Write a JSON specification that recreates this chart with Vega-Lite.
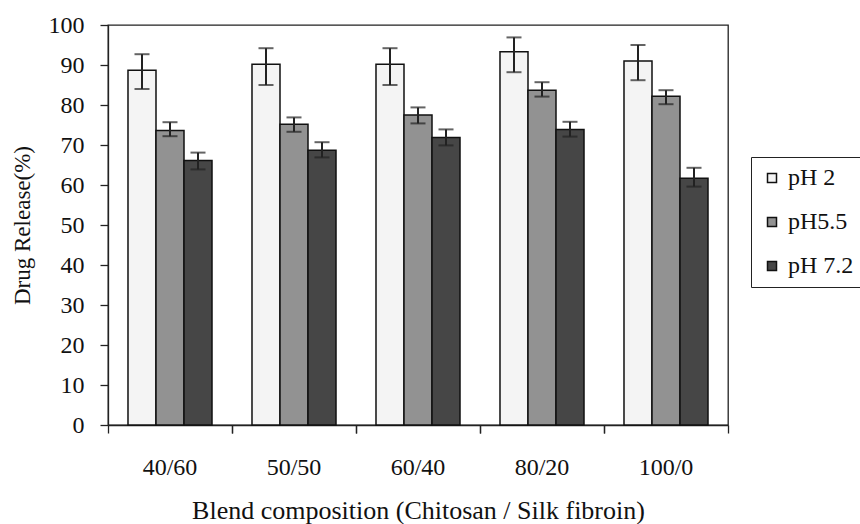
{
  "$schema": "https://vega.github.io/schema/vega-lite/v6.json",
  "width": 620,
  "height": 400,
  "padding": {"left": 11, "top": 13, "right": 2, "bottom": 2},
  "background": "white",
  "config": {
    "view": {"stroke": "#222", "strokeWidth": 1.3},
    "font": "Liberation Serif",
    "axis": {
      "labelFont": "Liberation Serif",
      "titleFont": "Liberation Serif",
      "titleFontWeight": "normal",
      "labelColor": "#111",
      "titleColor": "#111",
      "domainColor": "#222",
      "tickColor": "#222",
      "domainWidth": 1.3,
      "tickWidth": 1.3,
      "grid": false
    },
    "axisY": {
      "labelFont": "Liberation Serif",
      "titleFont": "Liberation Serif",
      "titleFontSize": 23,
      "titlePadding": 14,
      "labelFontSize": 24,
      "labelPadding": 16,
      "tickSize": 8
    },
    "axisX": {
      "labelFont": "Liberation Serif",
      "titleFont": "Liberation Serif"
    }
  },
  "data": {
    "values": [
      {"comp": "40/60", "ph": "pH 2", "value": 88.7, "lo": 84.0, "hi": 92.7},
      {"comp": "40/60", "ph": "pH5.5", "value": 73.6, "lo": 72.2, "hi": 75.7},
      {"comp": "40/60", "ph": "pH 7.2", "value": 66.1, "lo": 63.9, "hi": 68.1},
      {"comp": "50/50", "ph": "pH 2", "value": 90.2, "lo": 85.0, "hi": 94.2},
      {"comp": "50/50", "ph": "pH5.5", "value": 75.2, "lo": 73.3, "hi": 76.9},
      {"comp": "50/50", "ph": "pH 7.2", "value": 68.7, "lo": 66.9, "hi": 70.7},
      {"comp": "60/40", "ph": "pH 2", "value": 90.2, "lo": 85.0, "hi": 94.2},
      {"comp": "60/40", "ph": "pH5.5", "value": 77.5, "lo": 75.4, "hi": 79.4},
      {"comp": "60/40", "ph": "pH 7.2", "value": 71.9, "lo": 69.9, "hi": 73.9},
      {"comp": "80/20", "ph": "pH 2", "value": 93.3, "lo": 88.2, "hi": 96.9},
      {"comp": "80/20", "ph": "pH5.5", "value": 83.7, "lo": 82.1, "hi": 85.7},
      {"comp": "80/20", "ph": "pH 7.2", "value": 73.9, "lo": 72.1, "hi": 75.8},
      {"comp": "100/0", "ph": "pH 2", "value": 91.0, "lo": 86.2, "hi": 95.0},
      {"comp": "100/0", "ph": "pH5.5", "value": 82.2, "lo": 80.2, "hi": 83.7},
      {"comp": "100/0", "ph": "pH 7.2", "value": 61.7, "lo": 59.6, "hi": 64.3}
    ]
  },
  "encoding": {
    "xOffset": {
      "field": "ph",
      "type": "nominal",
      "sort": ["pH 2", "pH5.5", "pH 7.2"],
      "scale": {"paddingInner": 0, "paddingOuter": 0.714}
    }
  },
  "layer": [
    {
      "mark": {"type": "bar", "stroke": "#111", "strokeWidth": 1.5},
      "encoding": {
        "x": {
          "field": "comp",
          "type": "nominal",
          "sort": ["40/60", "50/50", "60/40", "80/20", "100/0"],
          "scale": {"paddingInner": 0, "paddingOuter": 0},
          "axis": {
            "orient": "bottom",
            "title": "Blend composition (Chitosan / Silk fibroin)",
            "titleFontSize": 26,
            "titlePadding": 18,
            "labelFontSize": 24,
            "labelAngle": 0,
            "labelPadding": 30,
            "ticks": false,
            "domain": true
          }
        },
        "y": {
          "field": "value",
          "type": "quantitative",
          "scale": {"domain": [0, 100], "nice": false},
          "axis": {
            "title": "Drug Release(%)",
            "values": [0, 10, 20, 30, 40, 50, 60, 70, 80, 90, 100]
          }
        },
        "fill": {
          "field": "ph",
          "type": "nominal",
          "scale": {
            "domain": ["pH 2", "pH5.5", "pH 7.2"],
            "range": ["#f4f4f4", "#929292", "#464646"]
          },
          "legend": {
            "title": null,
            "orient": "none",
            "legendX": 643,
            "legendY": 132,
            "strokeColor": "#222",
            "fillColor": "white",
            "padding": 9,
            "symbolType": "square",
            "symbolSize": 81,
            "symbolStrokeColor": "#111",
            "symbolStrokeWidth": 1.5,
            "labelFont": "Liberation Serif",
            "labelFontSize": 24,
            "labelColor": "#111",
            "labelOffset": 4,
            "rowPadding": 20
          }
        }
      }
    },
    {
      "mark": {"type": "rule", "strokeWidth": 2, "color": "#222"},
      "encoding": {
        "x": {
          "field": "comp",
          "type": "nominal",
          "sort": ["40/60", "50/50", "60/40", "80/20", "100/0"],
          "axis": {
            "orient": "bottom",
            "title": null,
            "labels": false,
            "domain": false,
            "ticks": true,
            "tickSize": 8,
            "bandPosition": 0
          }
        },
        "y": {
          "field": "lo",
          "type": "quantitative",
          "axis": {
            "title": "Drug Release(%)",
            "values": [0, 10, 20, 30, 40, 50, 60, 70, 80, 90, 100]
          }
        },
        "y2": {"field": "hi"}
      }
    },
    {
      "mark": {"type": "tick", "thickness": 2, "size": 15, "color": "#222"},
      "encoding": {
        "x": {
          "field": "comp",
          "type": "nominal",
          "sort": ["40/60", "50/50", "60/40", "80/20", "100/0"],
          "axis": {
            "orient": "bottom",
            "title": null,
            "labels": false,
            "domain": false,
            "ticks": true,
            "tickSize": 8,
            "bandPosition": 1
          }
        },
        "y": {
          "field": "hi",
          "type": "quantitative",
          "axis": {
            "title": "Drug Release(%)",
            "values": [0, 10, 20, 30, 40, 50, 60, 70, 80, 90, 100]
          }
        }
      }
    },
    {
      "mark": {"type": "tick", "thickness": 2, "size": 15, "color": "#222"},
      "encoding": {
        "x": {
          "field": "comp",
          "type": "nominal",
          "sort": ["40/60", "50/50", "60/40", "80/20", "100/0"],
          "axis": null
        },
        "y": {
          "field": "lo",
          "type": "quantitative",
          "axis": {
            "title": "Drug Release(%)",
            "values": [0, 10, 20, 30, 40, 50, 60, 70, 80, 90, 100]
          }
        }
      }
    }
  ],
  "resolve": {"axis": {"x": "independent"}}
}
